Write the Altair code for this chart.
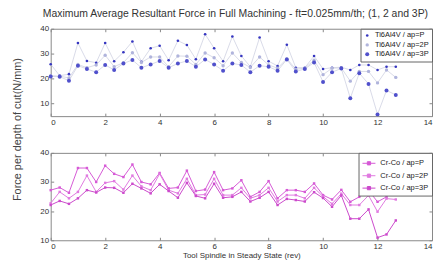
import altair as alt
import pandas as pd

x_rev = [0, 0.33, 0.67, 1, 1.33, 1.67, 2, 2.33, 2.67, 3, 3.33, 3.67, 4, 4.33, 4.67,
         5, 5.33, 5.67, 6, 6.33, 6.67, 7, 7.33, 7.67, 8, 8.33, 8.67, 9, 9.33, 9.67,
         10, 10.33, 10.67, 11, 11.33, 11.67, 12, 12.33, 12.67]

ti_p = [25.8, 21.2, 21.8, 34.3, 27.1, 26.4, 34.3, 27.0, 30.6, 34.9, 26.8, 32.2, 33.2, 27.4, 35.2,
        33.5, 27.8, 37.8, 32.2, 27.0, 36.9, 29.1, 24.8, 36.5, 27.0, 25.1, 33.6, 24.4, 24.4, 29.1,
        23.9, 24.4, 24.6, 23.5, 25.5, 25.5, 23.5, 24.8, 24.8]
ti_2p = [21.2, 21.0, 20.3, 25.7, 24.4, 25.5, 29.4, 24.8, 26.4, 30.4, 26.5, 28.7, 28.7, 24.8, 29.1,
         29.0, 25.7, 30.3, 28.4, 25.2, 30.3, 26.5, 24.5, 28.7, 25.5, 24.2, 28.0, 23.8, 24.2, 27.4,
         21.6, 24.2, 24.3, 19.0, 22.9, 22.9, 18.3, 23.5, 20.5]
ti_3p = [20.9, 20.8, 19.2, 25.2, 23.9, 22.6, 25.5, 23.5, 26.1, 27.5, 24.4, 25.7, 27.1, 24.4, 26.1,
         27.1, 24.8, 27.7, 25.7, 23.2, 26.1, 25.5, 22.6, 25.2, 24.8, 23.2, 27.7, 22.9, 23.9, 26.5,
         18.7, 22.6, 24.1, 12.2, 22.2, 17.9, 5.7, 15.3, 13.5]

cr_p = [27.2, 28.1, 26.3, 34.8, 34.8, 30.0, 35.6, 32.8, 31.7, 36.0, 30.0, 29.2, 33.1, 27.8, 28.1,
        33.9, 26.9, 27.4, 33.4, 27.2, 27.8, 30.6, 24.9, 26.6, 30.3, 24.4, 27.2, 27.2, 26.6, 29.5,
        25.5, 24.0, 27.3, 23.2, 24.9, 27.1, 23.2, 24.9, 28.5]
cr_2p = [22.7, 26.6, 24.4, 26.6, 32.2, 26.6, 29.7, 30.3, 27.4, 32.2, 28.5, 27.2, 32.8, 27.2, 26.1,
         31.1, 25.5, 25.7, 31.1, 25.5, 25.5, 28.0, 24.4, 25.5, 28.0, 23.3, 25.5, 25.5, 24.4, 28.0,
         25.0, 22.5, 26.0, 22.1, 22.1, 25.4, 19.8, 24.3, 24.0]
cr_3p = [22.1, 23.5, 22.5, 24.4, 27.2, 26.4, 28.1, 28.0, 26.3, 29.4, 27.8, 26.1, 29.2, 26.9, 24.6,
         29.7, 25.2, 24.4, 29.4, 24.6, 24.9, 26.6, 23.3, 24.6, 26.6, 22.1, 24.2, 23.8, 23.3, 26.5,
         24.5, 21.5, 25.4, 17.4, 17.4, 20.6, 10.9, 12.0, 16.8]

ti_labels = ["Ti6Al4V / ap=P", "Ti6Al4V / ap=2P", "Ti6Al4V / ap=3P"]
cr_labels = ["Cr-Co / ap=P", "Cr-Co / ap=2P", "Cr-Co / ap=3P"]
x_ticks = [0, 2, 4, 6, 8, 10, 12, 14]
ti_y_ticks = [10, 20, 30, 40]
cr_y_ticks = [10, 20, 30, 40]

chart_title = "Maximum Average Resultant Force in Full Machining - ft=0.025mm/th; (1, 2 and 3P)"
y_title = "Force per depth of cut(N/mm)"
x_title = "Tool Spindle in Steady State (rev)"


def long_frame(labels, series):
    rows = []
    for lab, vals in zip(labels, series):
        for xv, yv in zip(x_rev, vals):
            rows.append({"x": xv, "force": yv, "series": lab})
    return pd.DataFrame(rows)


df_ti = long_frame(ti_labels, [ti_p, ti_2p, ti_3p])
df_cr = long_frame(cr_labels, [cr_p, cr_2p, cr_3p])

FONT = "Liberation Sans"
W = 384
H_TOP = 88
H_BOT = 88
TOP_DOMAIN = [5, 40]
BOT_DOMAIN = [10, 40]
XS = alt.Scale(domain=[0, 14], nice=False)

inward = dict(offset=-3, domain=False, tickSize=3)

legend_common = dict(orient="top-right", offset=0, title=None, strokeColor="#666",
                     fillColor="white", padding=3, labelFontSize=7.5, labelFont=FONT,
                     labelColor="#222", rowPadding=0.5, labelLimit=200)


def box_ticks(df, ydomain, yvals):
    # invisible layer carrying the tick marks of the top and right edges of the box
    return alt.Chart(df).mark_point(opacity=0).encode(
        x=alt.X("x:Q", scale=XS,
                axis=alt.Axis(orient="top", values=x_ticks, labels=False, title=None, **inward)),
        y=alt.Y("force:Q", scale=alt.Scale(domain=ydomain, nice=False),
                axis=alt.Axis(orient="right", values=yvals, labels=False, title=None, **inward)),
    )


# ---------- top panel ----------
x_top = alt.X("x:Q", scale=XS,
              axis=alt.Axis(values=x_ticks, title=None, labelPadding=2, **inward))
y_top = alt.Y("force:Q", scale=alt.Scale(domain=TOP_DOMAIN, nice=False),
              axis=alt.Axis(values=ti_y_ticks, title=y_title, titleX=-36, titleY=101,
                            titleAngle=270, titleBaseline="middle", titleAlign="center",
                            titleFontSize=11, titleFontWeight="normal", titleColor="#444",
                            labelPadding=2, **inward))
x_top_na = alt.X("x:Q", scale=XS, axis=None)
y_top_na = alt.Y("force:Q", scale=alt.Scale(domain=TOP_DOMAIN, nice=False), axis=None)

top_lines = alt.Chart(df_ti).mark_line(color="#cfd1e2", strokeWidth=0.8).encode(
    x=x_top, y=y_top, detail="series:N")
top_pts = alt.Chart(df_ti).mark_point(filled=True, opacity=1).encode(
    x=x_top_na, y=y_top_na,
    color=alt.Color("series:N", scale=alt.Scale(domain=ti_labels,
                                                 range=["#3535c0", "#b0b4dc", "#5050cc"]),
                    legend=alt.Legend(symbolSize=12, symbolType="circle", **legend_common)),
    size=alt.Size("series:N", scale=alt.Scale(domain=ti_labels, range=[7, 16, 9]), legend=None),
)
top = alt.layer(top_lines, top_pts, box_ticks(df_ti, TOP_DOMAIN, ti_y_ticks)).resolve_axis(
    x="independent", y="independent"
).properties(
    width=W, height=H_TOP,
    title=alt.TitleParams(chart_title, anchor="middle", dx=-6, offset=5, fontSize=10.5,
                          font=FONT, fontWeight="normal", color="#333"))

# ---------- bottom panel ----------
x_bot = alt.X("x:Q", scale=XS,
              axis=alt.Axis(values=x_ticks, title=x_title, titleFontSize=8,
                            titleFontWeight="normal", titleColor="#333", titlePadding=1,
                            labelPadding=2, **inward))
y_bot = alt.Y("force:Q", scale=alt.Scale(domain=BOT_DOMAIN, nice=False),
              axis=alt.Axis(values=cr_y_ticks, title=None, labelPadding=2, **inward))
x_bot_na = alt.X("x:Q", scale=XS, axis=None)
y_bot_na = alt.Y("force:Q", scale=alt.Scale(domain=BOT_DOMAIN, nice=False), axis=None)

cr_colors = alt.Scale(domain=cr_labels, range=["#d65ad6", "#e07ae0", "#cc4acc"])

bot_lines = alt.Chart(df_cr).mark_line(strokeWidth=1).encode(
    x=x_bot, y=y_bot,
    color=alt.Color("series:N", scale=cr_colors,
                    legend=alt.Legend(symbolType="M-1,0L1,0M-0.25,-0.25L0.25,-0.25L0.25,0.25L-0.25,0.25Z",
                                      symbolSize=170, symbolStrokeWidth=1, **legend_common)),
)
bot_pts = alt.Chart(df_cr).mark_point(shape="square", size=6, filled=True, opacity=1).encode(
    x=x_bot_na, y=y_bot_na,
    color=alt.Color("series:N", scale=cr_colors, legend=None),
)
bottom = alt.layer(bot_lines, bot_pts, box_ticks(df_cr, BOT_DOMAIN, cr_y_ticks)).resolve_axis(
    x="independent", y="independent"
).properties(width=W, height=H_BOT)

chart = alt.vconcat(top, bottom, spacing=37, bounds="flush").resolve_scale(
    color="independent", size="independent"
).resolve_legend(color="independent").properties(
    padding={"left": 3, "top": 0, "right": 0, "bottom": 0}
).configure_axis(
    labelFont=FONT, labelFontSize=8, labelColor="#333", titleFont=FONT,
    tickColor="#888", grid=False
).configure_view(stroke="#888", strokeWidth=1)

chart.save("out.html", embed_options={"renderer": "svg", "actions": False})
